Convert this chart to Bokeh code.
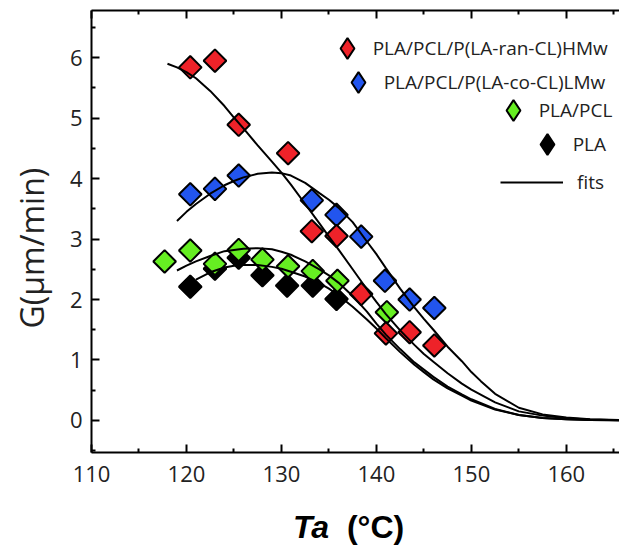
import numpy as np
from bokeh.plotting import figure
from bokeh.layouts import column
from bokeh.models import Range1d, LinearAxis, FixedTicker, Legend, LegendItem, Div
from bokeh.embed import file_html
from bokeh.resources import INLINE

# ---- data ----
ta_hmw = [120.4, 123.0, 125.5, 130.7, 133.2, 135.8, 138.4, 141.0, 143.5, 146.1]
g_hmw = [5.84, 5.95, 4.89, 4.42, 3.13, 3.05, 2.09, 1.44, 1.46, 1.24]

ta_lmw = [120.4, 123.0, 125.5, 133.2, 135.8, 138.4, 140.9, 143.5, 146.1]
g_lmw = [3.74, 3.83, 4.05, 3.64, 3.40, 3.04, 2.31, 2.00, 1.86]

ta_blend = [117.7, 120.4, 123.0, 125.5, 128.0, 130.7, 133.3, 135.9, 141.1]
g_blend = [2.63, 2.81, 2.59, 2.82, 2.66, 2.55, 2.47, 2.31, 1.79]

ta_pla = [120.4, 123.0, 125.5, 128.0, 130.6, 133.3, 135.8]
g_pla = [2.21, 2.51, 2.69, 2.40, 2.23, 2.23, 2.01]

fit_x_hmw = [118.0, 119, 120, 121, 122.5, 124, 125, 126, 127.5, 129, 130, 131, 132.5, 134, 135, 136, 137.5, 139, 140, 141, 142.5, 144, 145, 146, 147.5, 149, 150, 152.5, 155, 157.5, 160, 162.5, 165.6]
fit_g_hmw = [5.90, 5.84, 5.76, 5.66, 5.45, 5.20, 5.01, 4.83, 4.55, 4.28, 4.10, 3.90, 3.58, 3.26, 3.04, 2.83, 2.50, 2.17, 1.96, 1.76, 1.49, 1.25, 1.10, 0.97, 0.78, 0.61, 0.51, 0.30, 0.15, 0.08, 0.035, 0.015, 0.005]

fit_x_lmw = [119.0, 120, 121, 122.5, 124, 125, 126, 127.5, 129, 130, 131, 132.5, 134, 135, 136, 137.5, 139, 140, 141, 142.5, 144, 145, 146, 147.5, 149, 150, 151, 152.5, 155, 157.5, 160, 162.5, 165.6]
fit_g_lmw = [3.30, 3.45, 3.58, 3.75, 3.89, 3.96, 4.02, 4.08, 4.10, 4.09, 4.05, 3.93, 3.76, 3.65, 3.52, 3.28, 2.96, 2.75, 2.52, 2.18, 1.87, 1.68, 1.50, 1.22, 0.98, 0.80, 0.65, 0.44, 0.21, 0.10, 0.05, 0.02, 0.008]

fit_x_blend = [119.0, 120, 121, 122.5, 124, 125, 126, 127.5, 129, 130, 131, 132.5, 134, 135, 136, 137.5, 139, 140, 141, 142.5, 144, 145, 146, 147.5, 149, 150, 152.5, 155, 157.5, 160, 162.5, 165.6]
fit_g_blend = [2.48, 2.56, 2.63, 2.72, 2.80, 2.82, 2.84, 2.85, 2.83, 2.79, 2.74, 2.63, 2.50, 2.40, 2.28, 2.06, 1.80, 1.60, 1.42, 1.18, 0.96, 0.84, 0.72, 0.56, 0.43, 0.35, 0.19, 0.09, 0.04, 0.02, 0.008, 0.003]

fit_x_pla = [121.0, 122.5, 124, 125, 126, 127.5, 129, 130, 131, 132.5, 134, 135, 136, 137.5, 139, 140, 141, 142.5, 144, 145, 146, 147.5, 149, 150, 152.5, 155, 157.5, 160, 162.5, 165.6]
fit_g_pla = [2.33, 2.45, 2.53, 2.56, 2.57, 2.57, 2.54, 2.51, 2.46, 2.38, 2.27, 2.18, 2.07, 1.88, 1.67, 1.52, 1.36, 1.13, 0.92, 0.80, 0.68, 0.53, 0.41, 0.33, 0.18, 0.09, 0.04, 0.02, 0.008, 0.003]

x_ticks = [110, 120, 130, 140, 150, 160]
x_minor = [115, 125, 135, 145, 155, 165]
y_ticks = [0, 1, 2, 3, 4, 5, 6]
y_minor = [-0.5, 0.5, 1.5, 2.5, 3.5, 4.5, 5.5, 6.5]

labels = ["PLA/PCL/P(LA-ran-CL)HMw", "PLA/PCL/P(LA-co-CL)LMw", "PLA/PCL", "PLA", "fits"]
colors = ["#ee2229", "#2255ee", "#66ee22", "#000000"]

# ---- figure ----
p = figure(width=619, height=505, output_backend="svg", toolbar_location=None,
           x_range=Range1d(110, 165.6), y_range=Range1d(-0.53, 6.78),
           min_border_left=91, min_border_right=0, min_border_top=10, min_border_bottom=53)
p.outline_line_color = None
p.xgrid.visible = False
p.ygrid.visible = False
p.background_fill_color = "white"
p.border_fill_color = "white"

font = "Open Sans"

xa = p.xaxis[0]
xa.ticker = FixedTicker(ticks=x_ticks, minor_ticks=x_minor)
ya = p.yaxis[0]
ya.ticker = FixedTicker(ticks=y_ticks, minor_ticks=y_minor)
for ax in (xa, ya):
    ax.axis_line_width = 2
    ax.axis_line_color = "black"
    ax.major_tick_in = 8
    ax.major_tick_out = 0
    ax.minor_tick_in = 4
    ax.minor_tick_out = 0
    ax.major_tick_line_width = 2
    ax.minor_tick_line_width = 2
    ax.major_label_text_font = font
    ax.major_label_text_color = "#222222"
xa.major_label_text_font_size = "22px"
xa.major_label_standoff = 13
ya.major_label_text_font_size = "22px"
ya.major_label_standoff = 9
# trailing no-break spaces shift the visible label down, as in the original
ya.axis_label = "G(\u03bcm/min)\u00a0\u00a0\u00a0\u00a0"
ya.axis_label_text_font = font
ya.axis_label_text_font_size = "32px"
ya.axis_label_text_font_style = "normal"
ya.axis_label_text_color = "#222222"
ya.axis_label_standoff = 14

# mirrored top frame line with inward ticks, no labels
top = LinearAxis(ticker=FixedTicker(ticks=x_ticks, minor_ticks=x_minor),
                 major_label_overrides={t: "" for t in x_ticks},
                 major_label_text_font_size="0px", major_label_standoff=0,
                 major_tick_in=8, major_tick_out=0, minor_tick_in=4, minor_tick_out=0,
                 axis_line_width=2, major_tick_line_width=2, minor_tick_line_width=2)
p.add_layout(top, "above")

series = [(ta_hmw, g_hmw, colors[0]), (ta_lmw, g_lmw, colors[1]),
          (ta_blend, g_blend, colors[2]), (ta_pla, g_pla, colors[3])]

# zero-size diamond renderers: only used to draw diamond glyphs in the legend
leg_r = [p.scatter(xs, ys, marker="diamond", size=0, fill_color=c,
                   line_color="black", line_width=2) for xs, ys, c in series]

# ---- points (rotated squares), drawn black -> green -> blue -> red ----
for xs, ys, c in series[::-1]:
    p.scatter(xs, ys, marker="square", size=16, angle=np.pi / 4,
              fill_color=c, line_color="black", line_width=2)

# ---- fits ----
r_fit = p.line(fit_x_hmw, fit_g_hmw, line_color="black", line_width=2)
p.line(fit_x_lmw, fit_g_lmw, line_color="black", line_width=2)
p.line(fit_x_blend, fit_g_blend, line_color="black", line_width=2)
p.line(fit_x_pla, fit_g_pla, line_color="black", line_width=2)

# ---- legend: one box per entry, right aligned like the original ----
entries = [
    (labels[0], leg_r[0], (229.7, 378), 52, -5),
    (labels[1], leg_r[1], (240.7, 344), 52, -5),
    (labels[2], leg_r[2], (395.7, 316), 52, -5),
    (labels[3], leg_r[3], (429.7, 282), 52, -5),
    (labels[4], r_fit, (409, 244), 63, 14),
]
for lab, rend, loc, gw, stand in entries:
    leg = Legend(items=[LegendItem(label=lab, renderers=[rend])], location=loc,
                 glyph_width=gw, glyph_height=52, label_standoff=stand, padding=0,
                 spacing=0, margin=0, border_line_color=None, background_fill_alpha=0,
                 label_text_font=font, label_text_font_size="19px",
                 label_text_color="#222222", label_height=20)
    p.add_layout(leg)

# ---- x axis title (bold italic "Ta" + bold "(°C)") ----
xtitle = Div(text="<i>Ta</i>&nbsp;&nbsp;(\u00b0C)", width=619, height=42, margin=(0, 0, 0, 0),
             styles={"font-family": "Liberation Sans, Arial, sans-serif", "font-size": "32px",
                     "font-weight": "bold", "line-height": "44px", "color": "black",
                     "padding-left": "293px", "background-color": "white",
                     "white-space": "nowrap", "box-sizing": "border-box"})

layout = column(p, xtitle, spacing=0)
open("out.html", "w").write(file_html(layout, INLINE))
